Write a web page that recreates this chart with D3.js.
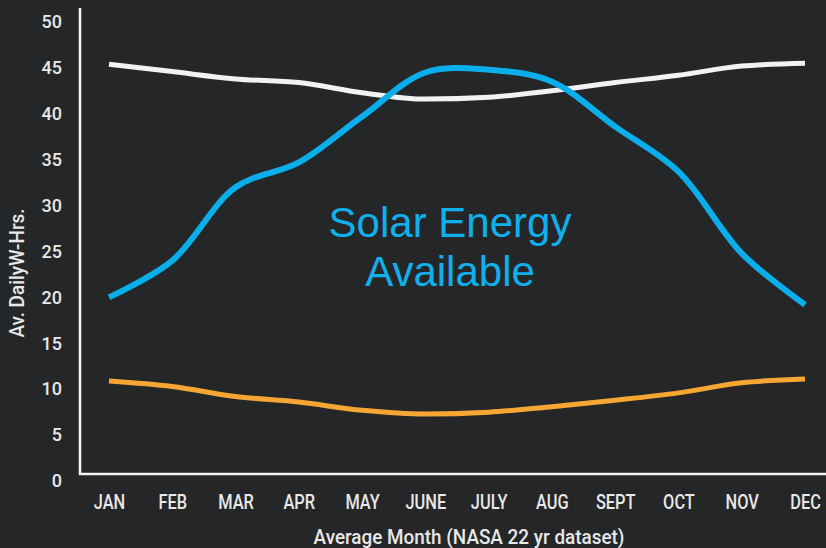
<!DOCTYPE html>
<html>
<head>
<meta charset="utf-8">
<script src="https://cdn.jsdelivr.net/npm/d3@7"></script>
<style>
  html, body { margin: 0; padding: 0; background: #252627; }
  svg { display: block; }
  .lbl { fill: #e8e8e8; font-family: Roboto, "Noto Sans", sans-serif; font-weight: 500; }
  .tick text { fill: #e8e8e8; font-family: Roboto, "Noto Sans", sans-serif; font-weight: 500; }
  .y-ax .tick text { font-size: 18px; }
  .x-ax .tick text { font-size: 20px; }
</style>
</head>
<body>
<div id="chart-area"></div>
<script>
var months = ["JAN", "FEB", "MAR", "APR", "MAY", "JUNE", "JULY", "AUG", "SEPT", "OCT", "NOV", "DEC"];
var yTicks = [0, 5, 10, 15, 20, 25, 30, 35, 40, 45, 50];

var solar = [20.0, 24.0, 32.0, 34.7, 39.7, 44.5, 44.8, 43.5, 38.6, 33.7, 24.8, 19.2];
var whiteLine = [45.4, 44.6, 43.8, 43.4, 42.3, 41.6, 41.8, 42.5, 43.4, 44.2, 45.2, 45.5];
var orangeLine = [10.9, 10.3, 9.2, 8.6, 7.7, 7.3, 7.5, 8.1, 8.8, 9.6, 10.7, 11.1];

var width = 826, height = 548;

var svg = d3.select("#chart-area")
    .append("svg")
    .attr("width", width)
    .attr("height", height);

svg.append("rect")
    .attr("width", width)
    .attr("height", height)
    .attr("fill", "#252627");

var x = d3.scalePoint().domain(months).range([109, 805]);
var y = d3.scaleLinear().domain([0, 50]).range([481, 22]);

// y axis labels
var yAxis = svg.append("g")
    .attr("class", "y-ax")
    .attr("transform", "translate(62, 0)")
    .call(d3.axisLeft(y).tickValues(yTicks).tickSize(0).tickPadding(0));
yAxis.select(".domain").remove();

// x axis labels
var xAxis = svg.append("g")
    .attr("class", "x-ax")
    .attr("transform", "translate(0, 495)")
    .call(d3.axisBottom(x).tickSize(0).tickPadding(0));
xAxis.select(".domain").remove();
xAxis.selectAll("text").attr("dy", "0.71em").attr("transform", "scale(0.82,1)");

// frame
svg.append("line")
    .attr("x1", 80).attr("x2", 80)
    .attr("y1", 8).attr("y2", 475)
    .attr("stroke", "#f2f2f2").attr("stroke-width", 2.5);
svg.append("line")
    .attr("x1", 79).attr("x2", 826)
    .attr("y1", 474).attr("y2", 474)
    .attr("stroke", "#f2f2f2").attr("stroke-width", 2.5);

var line = d3.line()
    .x((d, i) => x(months[i]))
    .y(d => y(d))
    .curve(d3.curveMonotoneX);

svg.append("path")
    .datum(whiteLine)
    .attr("d", line)
    .attr("fill", "none")
    .attr("stroke", "#f2f2f2")
    .attr("stroke-width", 5);

svg.append("path")
    .datum(orangeLine)
    .attr("d", line)
    .attr("fill", "none")
    .attr("stroke", "#f6a733")
    .attr("stroke-width", 5);

svg.append("path")
    .datum(solar)
    .attr("d", line.curve(d3.curveCatmullRom.alpha(0.5)))
    .attr("fill", "none")
    .attr("stroke", "#0aaeea")
    .attr("stroke-width", 6);

// annotation
var note = svg.append("text")
    .attr("text-anchor", "middle")
    .attr("fill", "#0fb0ec")
    .style("font-family", "'Liberation Sans', Arial, sans-serif")
    .style("font-size", "42px");
note.append("tspan").attr("x", 450).attr("y", 237).text("Solar Energy");
note.append("tspan").attr("x", 450).attr("y", 286).text("Available");

// axis titles
svg.append("text")
    .attr("class", "lbl")
    .attr("transform", "translate(24, 273) rotate(-90) scale(0.9,1)")
    .attr("text-anchor", "middle")
    .style("font-size", "21px")
    .text("Av. DailyW-Hrs.");

svg.append("text")
    .attr("class", "lbl")
    .attr("transform", "translate(469, 544) scale(0.9,1)")
    .attr("text-anchor", "middle")
    .style("font-size", "21px")
    .text("Average Month (NASA 22 yr dataset)");
</script>
</body>
</html>
